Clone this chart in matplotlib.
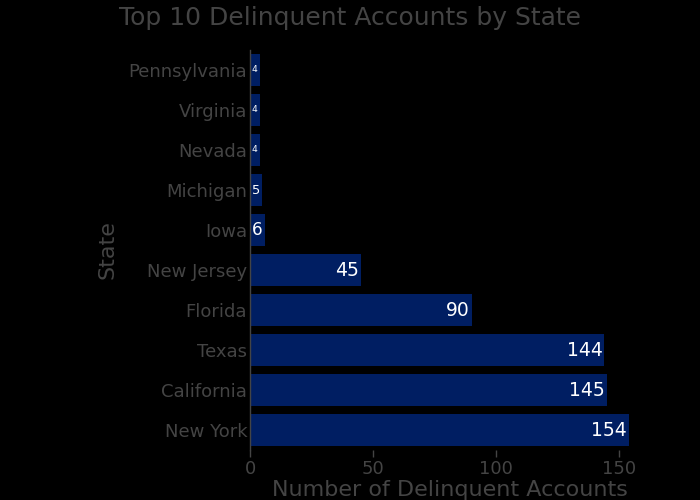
import matplotlib
matplotlib.use("Agg")
import matplotlib.pyplot as plt

# data, top-to-bottom order as drawn
states = ["Pennsylvania", "Virginia", "Nevada", "Michigan", "Iowa",
          "New Jersey", "Florida", "Texas", "California", "New York"]
counts = [4, 4, 4, 5, 6, 45, 90, 144, 145, 154]

bar_color = "#001E62"
text_gray = "#444444"

fig = plt.figure(figsize=(7, 5), dpi=100, facecolor="black")
ax = fig.add_axes([250 / 700, 0.1, 399 / 700, 0.8], facecolor="black")

ypos = list(range(len(states)))
ax.barh(ypos, counts, height=0.8, color=bar_color)
ax.set_ylim(len(states) - 0.5, -0.5)
ax.set_xlim(0, max(counts) * 1.0526)

# inside labels, shrunk to fit narrow bars
px_per_unit = 399 / (max(counts) * 1.0526)
for y, v in zip(ypos, counts):
    bar_px = v * px_per_unit
    full = 13.5
    est_w = len(str(v)) * 12  # approx width in px at full size
    if bar_px - 6 >= est_w:
        ax.text(v - 2 / px_per_unit, y, str(v), color="white", fontsize=full,
                ha="right", va="center", fontweight="medium")
    else:
        fs = full * max(0.3, (bar_px - 4) / est_w)
        ax.text(v / 2, y, str(v), color="white", fontsize=fs,
                ha="center", va="center", fontweight="medium")

ax.set_yticks(ypos)
ax.set_yticklabels(states)
ax.set_xticks([0, 50, 100, 150])
ax.tick_params(axis="y", length=0, pad=2, labelsize=13, labelcolor=text_gray)
ax.tick_params(axis="x", length=5, width=1, color=text_gray, pad=2,
               labelsize=13, labelcolor=text_gray, direction="out")

for s in ["top", "right", "bottom"]:
    ax.spines[s].set_visible(False)
ax.spines["left"].set_color(text_gray)
ax.spines["left"].set_linewidth(1)

ax.set_ylabel("State", fontsize=16, color=text_gray, labelpad=8)
ax.set_xlabel("Number of Delinquent Accounts", fontsize=16, color=text_gray,
              labelpad=2)
fig.text(0.5, 0.965, "Top 10 Delinquent Accounts by State", fontsize=18,
         color=text_gray, ha="center", va="center")

fig.savefig("out.png", dpi=100, facecolor="black")
